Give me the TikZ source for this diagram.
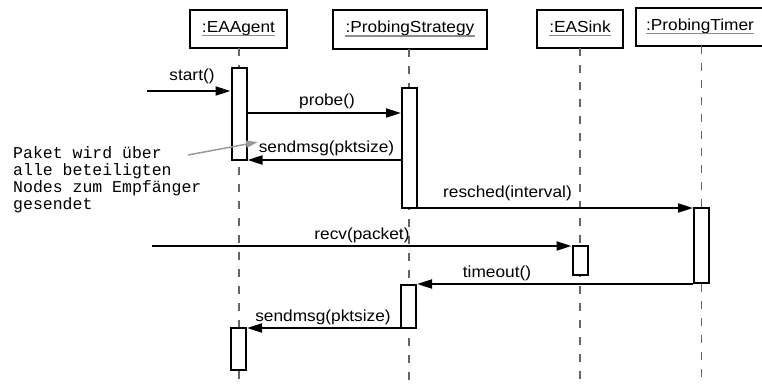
\documentclass[tikz,border=0pt]{standalone}
\usepackage{fontspec}
\setmainfont{Liberation Sans}
\newfontfamily\monof{Liberation Mono}
\usepackage{graphicx}
\usetikzlibrary{arrows.meta}
\newcommand{\sx}[1]{\scalebox{1.08}[1]{#1}}
\begin{document}
\begin{tikzpicture}[x=1pt,y=-1pt,
  objbox/.style={draw, line width=2pt, fill=white, inner sep=0},
  objlbl/.style={anchor=base, inner sep=0, font=\fontsize{16}{18}\selectfont},
  uline/.style={draw=black!45, line width=1.2pt},
  life/.style={draw=black!60, line width=1.3pt, dash pattern=on 8pt off 9pt},
  act/.style={draw, line width=2pt, fill=white, minimum width=15pt, inner sep=0},
  msg/.style={line width=2pt, -{Triangle[length=15pt,width=9pt]}},
  mlbl/.style={anchor=base, inner sep=0, font=\fontsize{16}{18}\selectfont},
  note/.style={anchor=base west, inner sep=0, align=left, font=\monof\fontsize{16.5}{17}\selectfont},
  notearrow/.style={draw=black!40, line width=1.5pt, -{Triangle[length=12pt,width=7pt]}}
  ]
\useasboundingbox (0,0) rectangle (762,385);

% object boxes
\node[objbox, minimum width=97pt, minimum height=38pt] (ea) at (238.5,29) {};
\node[objbox, minimum width=154pt, minimum height=39pt] (ps) at (410,29.5) {};
\node[objbox, minimum width=86pt, minimum height=38pt] (sk) at (580,29) {};
\node[objbox, minimum width=128pt, minimum height=38pt] (pt) at (700,27) {};

\node[objlbl] (eal) at (238.5,32.5) {\sx{:EAAgent}};
\node[objlbl] (psl) at (410,33) {\sx{:ProbingStrategy}};
\node[objlbl] (skl) at (580,32.5) {\sx{:EASink}};
\node[objlbl] (ptl) at (700,30.5) {\sx{:ProbingTimer}};
\foreach \n in {eal,psl,skl,ptl}{
  \draw[uline] ([yshift=-3pt]\n.base west) -- ([yshift=-3pt]\n.base east);
}

% lifelines
\coordinate (eabot) at (239,385);
\coordinate (psbot) at (409,385);
\coordinate (skbot) at (580,385);
\coordinate (ptbot) at (701.5,385);
\draw[life] (239,48) -- (eabot);
\draw[life] (409,49) -- (psbot);
\draw[life] (580,48) -- (skbot);
\draw[life] (701.5,46) -- (ptbot);

% activations
\node[act, minimum height=92pt] (a1) at (239,114) {};
\node[act, minimum height=120pt] (a2) at (409.5,148) {};
\node[act, minimum height=75pt] (a3) at (701.5,245.5) {};
\node[act, minimum height=29pt] (a4) at (580,260.5) {};
\node[act, minimum height=43pt] (a5) at (408.5,306.5) {};
\node[act, minimum height=42pt] (a6) at (238.5,349) {};

% messages
\coordinate (startsrc) at (147,91);
\draw[msg] (startsrc) -- (a1.west |- startsrc);
\node[mlbl] (l0) at (192,81) {\sx{start()}};

\draw[msg] (a1.east |- 0,113) -- (a2.west |- 0,113);
\node[mlbl] (l1) at (327,106) {\sx{probe()}};

\draw[msg] (a2.west |- 0,160) -- (a1.east |- 0,160);
\node[mlbl] (l2) at (326.5,152) {\sx{sendmsg(pktsize)}};

\draw[msg] (a2.east |- 0,208) -- (a3.west |- 0,208);
\node[mlbl] (l3) at (507.5,197) {\sx{resched(interval)}};

\coordinate (recvsrc) at (152,246);
\draw[msg] (recvsrc) -- (a4.west |- recvsrc);
\node[mlbl] (l4) at (362,239) {\sx{recv(packet)}};

\draw[msg] (a3.west |- 0,284) -- (a5.east |- 0,284);
\node[mlbl] (l5) at (497,277) {\sx{timeout()}};

\draw[msg] (a5.west |- 0,328) -- (a6.east |- 0,328);
\node[mlbl] (l6) at (323,321) {\sx{sendmsg(pktsize)}};

% note
\node[note] (nt) at (13,209) {Paket wird über\\alle beteiligten\\Nodes zum Empfänger\\gesendet};
\coordinate (ns) at (188,155);
\coordinate (ne) at (258,142);
\draw[notearrow] (ns) -- (ne);
\end{tikzpicture}
\end{document}
